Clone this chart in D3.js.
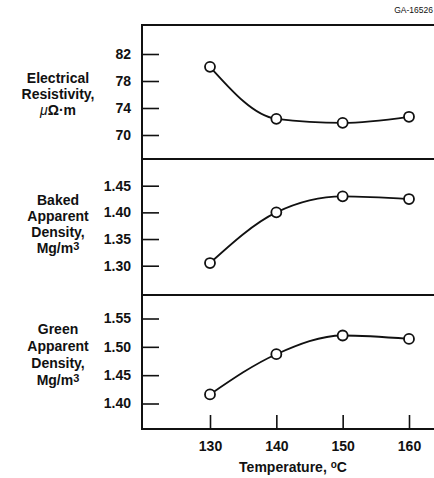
<!DOCTYPE html>
<html>
<head>
<meta charset="utf-8">
<script src="https://cdn.jsdelivr.net/npm/d3@7"></script>
<style>
body { margin: 0; background: #fff; }
svg text { font-family: "Liberation Sans", Arial, sans-serif; font-weight: bold; fill: #111; }
.tick line { stroke: #111; stroke-width: 1.6; }
</style>
</head>
<body>
<div id="graph"></div>
<script>
(function(){
"use strict";

var temps = [130, 140, 150, 160];
var resistivity = [80.1, 72.4, 71.8, 72.7];
var bakedDensity = [1.305, 1.40, 1.43, 1.425];
var greenDensity = [1.416, 1.487, 1.52, 1.514];

var resTicks = [70, 74, 78, 82];
var bakedTicks = [1.30, 1.35, 1.40, 1.45];
var greenTicks = [1.40, 1.45, 1.50, 1.55];
var tempTicks = [130, 140, 150, 160];

var width = 434;
var height = 478;
var left = 142;
var right = 436;

var svg = d3.select('#graph')
	.append('svg')
		.attr('width', width)
		.attr('height', height);

var x = d3.scaleLinear()
	.domain([130, 160])
	.range([210, 409]);

//one entry per stacked panel
var panels = [
	{values: resistivity, ticks: resTicks, fmt: d3.format("d"),
		y: d3.scaleLinear().domain([70, 82]).range([135, 54]),
		label: ["Electrical", "Resistivity,", "UNIT"], labelY: 78},
	{values: bakedDensity, ticks: bakedTicks, fmt: d3.format(".2f"),
		y: d3.scaleLinear().domain([1.30, 1.45]).range([265.7, 185.7]),
		label: ["Baked", "Apparent", "Density,", "MG"], labelY: 200},
	{values: greenDensity, ticks: greenTicks, fmt: d3.format(".2f"),
		y: d3.scaleLinear().domain([1.40, 1.55]).range([403.5, 318.5]),
		label: ["Green", "Apparent", "Density,", "MG"], labelY: 329, step: 17}
];

panels.forEach(function(p){
	var yAxis = d3.axisLeft()
		.scale(p.y)
		.tickValues(p.ticks)
		.tickFormat(p.fmt)
		.tickSizeInner(-17)
		.tickSizeOuter(0)
		.tickPadding(11);

	var g = svg.append('g')
		.attr('transform', 'translate(' + left + ',0)')
		.call(yAxis);
	g.select('.domain').remove();
	g.selectAll('text')
		.style('font-size', '14px')
		.style('font-family', '"Liberation Sans", Arial, sans-serif')
		.style('font-weight', 'bold')
		.attr('fill', '#111');

	var step = p.step || 16;
	p.label.forEach(function(t, i){
		var txt = svg.append('text')
			.attr('x', 58)
			.attr('y', p.labelY + i * step + 5)
			.attr('text-anchor', 'middle')
			.style('font-size', '14px');
		if (t === "UNIT") {
			txt.append('tspan').style('font-style', 'italic').style('font-weight', 'normal').text("\u03bc");
			txt.append('tspan').text("\u03a9\u00b7m");
		} else if (t === "MG") {
			txt.append('tspan').text("Mg/m");
			txt.append('tspan').attr('dy', -3).style('font-size', '11px').text("3");
		} else {
			txt.text(t);
		}
	});

	var line = d3.line()
		.x(function(d, i){ return x(temps[i]); })
		.y(function(d){ return p.y(d); })
		.curve(d3.curveMonotoneX);

	svg.append('path')
		.datum(p.values)
		.attr('d', line)
		.attr('fill', 'none')
		.attr('stroke', '#111')
		.attr('stroke-width', 1.8);

	svg.selectAll(null)
		.data(p.values)
		.enter()
		.append('circle')
			.attr('cx', function(d, i){ return x(temps[i]); })
			.attr('cy', function(d){ return p.y(d); })
			.attr('r', 5)
			.attr('fill', '#fff')
			.attr('stroke', '#111')
			.attr('stroke-width', 1.8);
});

var xAxis = d3.axisBottom()
	.scale(x)
	.tickValues(tempTicks)
	.tickFormat(d3.format("d"))
	.tickSizeInner(-14)
	.tickSizeOuter(0)
	.tickPadding(12);

var gx = svg.append('g')
	.attr('transform', 'translate(0,429)')
	.call(xAxis);
gx.select('.domain').remove();
gx.selectAll('text')
	.style('font-size', '14px')
	.style('font-family', '"Liberation Sans", Arial, sans-serif')
	.style('font-weight', 'bold')
	.attr('fill', '#111');

//frame and panel dividers
svg.append('line')
	.attr('x1', left).attr('x2', left)
	.attr('y1', 24).attr('y2', 430)
	.attr('stroke', '#111')
	.attr('stroke-width', 2);

svg.selectAll('hline')
	.data([25, 159, 295, 429])
	.enter()
	.append('line')
		.attr('x1', left - 1).attr('x2', right)
		.attr('y1', function(d){ return d; })
		.attr('y2', function(d){ return d; })
		.attr('stroke', '#111')
		.attr('stroke-width', 2);

var title = svg.append('text')
	.attr('x', 293)
	.attr('y', 472)
	.attr('text-anchor', 'middle')
	.style('font-size', '14px');
title.append('tspan').text("Temperature, ");
title.append('tspan').attr('dy', -4).style('font-size', '10px').text("o");
title.append('tspan').attr('dy', 4).text("C");

svg.append('text')
	.attr('x', 433)
	.attr('y', 13)
	.attr('text-anchor', 'end')
	.style('font-size', '8.5px')
	.style('font-weight', 'normal')
	.attr('fill', '#444')
	.text("GA-16526");

})();
</script>
</body>
</html>
